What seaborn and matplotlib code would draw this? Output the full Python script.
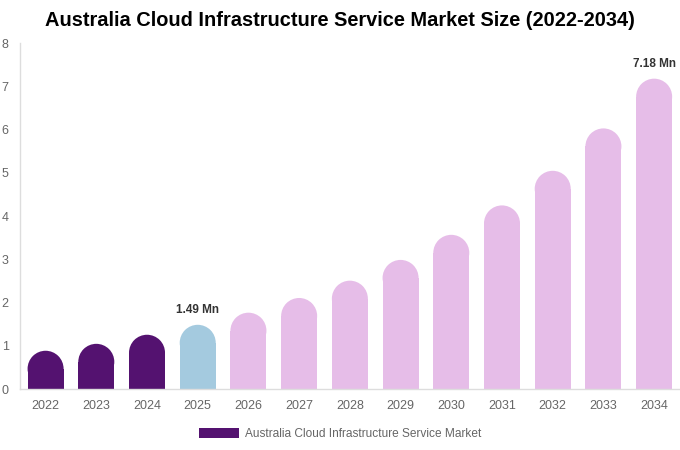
import numpy as np
import pandas as pd
import matplotlib
matplotlib.use("Agg")
import matplotlib.pyplot as plt
import seaborn as sns
from matplotlib.patches import Ellipse, Patch

# data
years = ["2022", "2023", "2024", "2025", "2026", "2027", "2028",
         "2029", "2030", "2031", "2032", "2033", "2034"]
market_size = [0.89, 1.05, 1.26, 1.49, 1.77, 2.11, 2.51,
               2.99, 3.57, 4.25, 5.05, 6.03, 7.18]
labeled_years = {"2025": "1.49 Mn", "2034": "7.18 Mn"}
series_name = "Australia Cloud Infrastructure Service Market"

DARK = "#541270"
BLUE = "#A4CADF"
PINK = "#E6BDE8"
bar_colors = [DARK if int(y) < 2025 else (BLUE if y == "2025" else PINK) for y in years]

sns.set_theme(style="white")
plt.rcParams["font.family"] = ["Liberation Sans", "DejaVu Sans"]

df = pd.DataFrame({"year": years, "value": market_size})

fig = plt.figure(figsize=(6.8, 4.5), dpi=100)
ax = fig.add_axes([0.029, 0.135, 0.971, 0.769])

sns.barplot(data=df, x="year", y="value", hue="year", palette=bar_colors,
            width=0.71, legend=False, ax=ax, saturation=1)

ax.set_ylim(0, 8)
ax.set_xlim(-0.51, 12.51)

# rounded tops: shrink each bar and cap it with an ellipse
fig.canvas.draw()
px_per_unit = ax.transData.transform((0, 1))[1] - ax.transData.transform((0, 0))[1]
for p in list(ax.patches):
    w = p.get_width()
    h = p.get_height()
    bar_px = w * (ax.transData.transform((1, 0))[0] - ax.transData.transform((0, 0))[0])
    r = (bar_px / 2) / px_per_unit
    p.set_height(h - r)
    p.set_edgecolor("none")
    cx = p.get_x() + w / 2
    ax.add_patch(Ellipse((cx, h - r), w, 2 * r, facecolor=p.get_facecolor(),
                         edgecolor="none"))

for i, y in enumerate(years):
    if y in labeled_years:
        ax.annotate(labeled_years[y], (i, market_size[i]), xytext=(0, 6.5),
                    textcoords="offset points", ha="center", va="bottom",
                    fontsize=8.5, fontweight="bold", color="#333333")

ax.set_xlabel("")
ax.set_ylabel("")
ax.set_yticks(range(0, 9))
ax.tick_params(axis="both", colors="#666666", labelsize=9, length=0)
ax.tick_params(axis="y", pad=8)
ax.tick_params(axis="x", pad=8)
for s in ["top", "right"]:
    ax.spines[s].set_visible(False)
for s in ["left", "bottom"]:
    ax.spines[s].set_color("#dddddd")
    ax.spines[s].set_linewidth(1)

fig.suptitle("Australia Cloud Infrastructure Service Market Size (2022-2034)",
             x=0.5, y=0.975, fontsize=14.4, fontweight="bold", color="#000000")

handle = Patch(facecolor=DARK, edgecolor="none", label=series_name)
fig.legend(handles=[handle], loc="center", bbox_to_anchor=(0.5, 0.036),
           frameon=False, fontsize=8.6, handlelength=3.35, handleheight=1.0,
           labelcolor="#666666", handletextpad=0.5)

fig.savefig("out.png", dpi=100)
